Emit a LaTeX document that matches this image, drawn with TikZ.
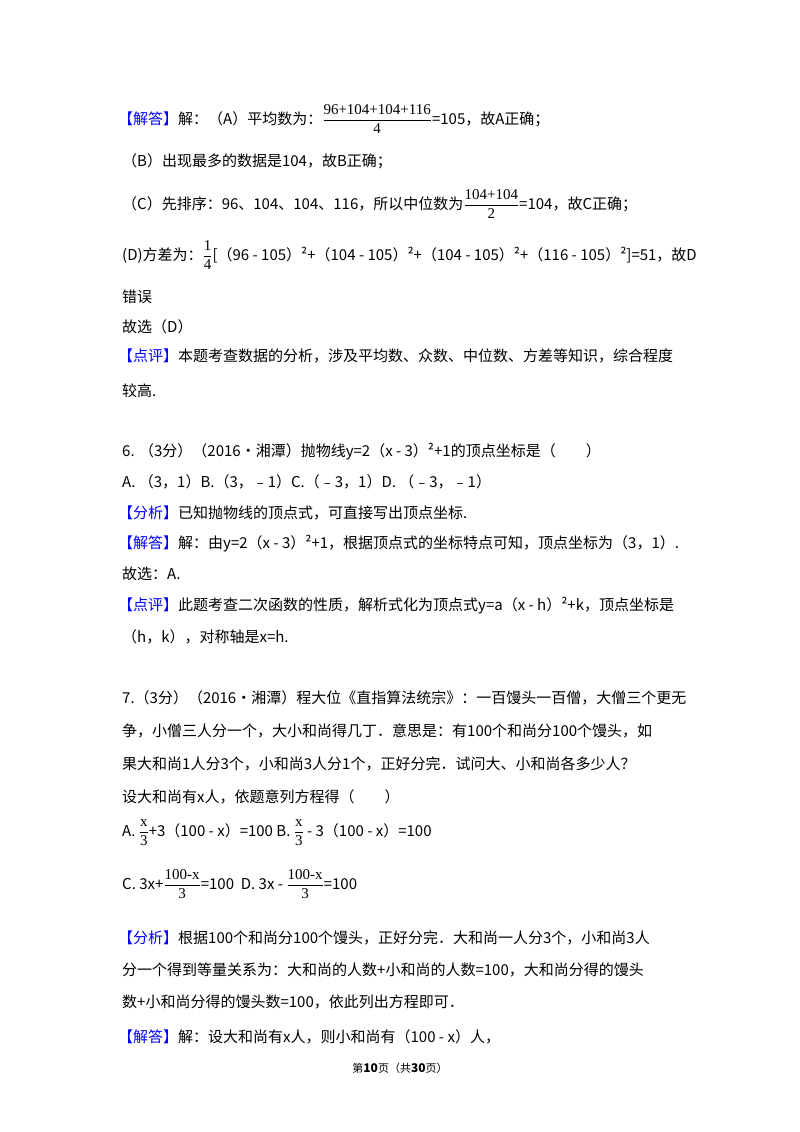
\documentclass[tikz,border=0pt]{standalone}
\usepackage{fontspec}
\setmainfont{Noto Sans CJK SC}
\usepackage{amsmath}
\definecolor{lblue}{RGB}{0,0,255}
\newcommand{\lb}[1]{\textcolor{lblue}{【#1】}}
\newcommand{\fr}[2]{$\dfrac{\textrm{\fontspec{Liberation Serif}#1}}{\textrm{\fontspec{Liberation Serif}#2}}$}
\begin{document}
\begin{tikzpicture}[x=1pt,y=-1pt,
  ln/.style={anchor=base west,inner sep=0pt,font=\fontsize{15}{16}\selectfont}]
\useasboundingbox (0,0) rectangle (800,1132);
\node[ln] (l1) at (118,124) {\lb{解答}解：（A）平均数为：\fr{96+104+104+116}{4}=105，故A正确；};
\node[ln] (l2) at (122,166) {（B）出现最多的数据是104，故B正确；};
\node[ln] (l3) at (122,209) {（C）先排序：96、104、104、116，所以中位数为\fr{104+104}{2}=104，故C正确；};
\node[ln] (l4) at (122,260) {(D)方差为：\fr{1}{4}[（96 - 105）²+（104 - 105）²+（104 - 105）²+（116 - 105）²]=51，故D};
\node[ln] (l5) at (122,302) {错误};
\node[ln] (l6) at (122,332) {故选（D）};
\node[ln] (l7) at (118,361) {\lb{点评}本题考查数据的分析，涉及平均数、众数、中位数、方差等知识，综合程度};
\node[ln] (l8) at (122,396) {较高.};
\node[ln] (l9) at (122,456) {6. （3分）（2016•湘潭）抛物线y=2（x - 3）²+1的顶点坐标是（　　）};
\node[ln] (l10) at (122,487) {A. （3，1）B.（3，﹣1）C.（﹣3，1）D. （﹣3，﹣1）};
\node[ln] (l11) at (118,518) {\lb{分析}已知抛物线的顶点式，可直接写出顶点坐标.};
\node[ln] (l12) at (118,548) {\lb{解答}解：由y=2（x - 3）²+1，根据顶点式的坐标特点可知，顶点坐标为（3，1）.};
\node[ln] (l13) at (122,579) {故选：A.};
\node[ln] (l14) at (118,610) {\lb{点评}此题考查二次函数的性质，解析式化为顶点式y=a（x - h）²+k，顶点坐标是};
\node[ln] (l15) at (122,642) {（h，k），对称轴是x=h.};
\node[ln] (l16) at (122,703) {7.（3分）（2016•湘潭）程大位《直指算法统宗》：一百馒头一百僧，大僧三个更无};
\node[ln] (l17) at (122,736) {争，小僧三人分一个，大小和尚得几丁．意思是：有100个和尚分100个馒头，如};
\node[ln] (l18) at (122,769) {果大和尚1人分3个，小和尚3人分1个，正好分完．试问大、小和尚各多少人？};
\node[ln] (l19) at (122,802) {设大和尚有x人，依题意列方程得（　　）};
\node[ln] (l20) at (122,836) {A. \fr{x}{3}+3（100 - x）=100 B. \fr{x}{3} - 3（100 - x）=100};
\node[ln] (l21) at (122,889) {C.  3x+\fr{100-x}{3}=100  \ D. 3x - \fr{100-x}{3}=100};
\node[ln] (l22) at (118,943) {\lb{分析}根据100个和尚分100个馒头，正好分完．大和尚一人分3个，小和尚3人};
\node[ln] (l23) at (122,975) {分一个得到等量关系为：大和尚的人数+小和尚的人数=100，大和尚分得的馒头};
\node[ln] (l24) at (122,1007) {数+小和尚分得的馒头数=100，依此列出方程即可．};
\node[ln] (l25) at (118,1042) {\lb{解答}解：设大和尚有x人，则小和尚有（100 - x）人，};
\node[anchor=base,inner sep=0pt,font=\fontsize{11}{12}\selectfont] (ft) at (400,1072) {第\textbf{\large 10}页（共\textbf{\large 30}页）};
\end{tikzpicture}
\end{document}
